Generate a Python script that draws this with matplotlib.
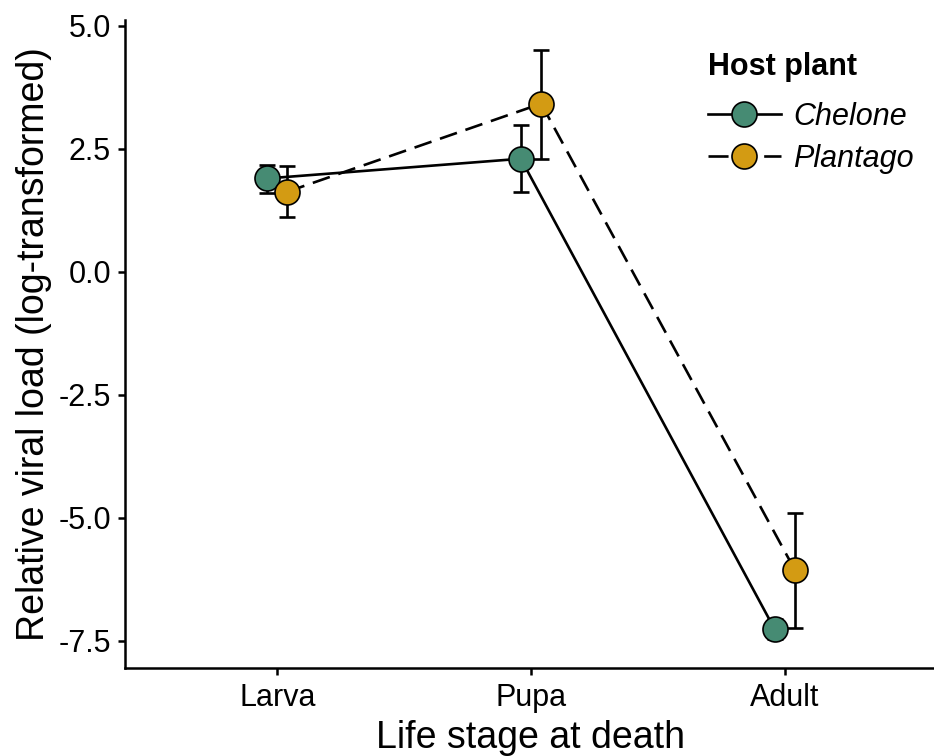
import matplotlib
matplotlib.use("Agg")
import matplotlib.pyplot as plt
from matplotlib.lines import Line2D
import numpy as np

plt.rcParams['font.family'] = ['Liberation Sans', 'DejaVu Sans']

stages = ["Larva", "Pupa", "Adult"]
chelone_mean = [1.90, 2.30, -7.26]
chelone_lo = [1.61, 1.63, -7.46]
chelone_hi = [2.17, 2.99, -7.06]
plantago_mean = [1.63, 3.42, -6.06]
plantago_lo = [1.12, 2.30, -7.24]
plantago_hi = [2.15, 4.51, -4.90]
yticks = [5.0, 2.5, 0.0, -2.5, -5.0, -7.5]
ytick_labels = ["5.0", "2.5", "0.0", "-2.5", "-5.0", "-7.5"]

green = "#468B73"
gold = "#D39B13"

W, H = 934, 756
fig = plt.figure(figsize=(W/100, H/100), dpi=100)
ax = fig.add_axes([125/W, (H-668)/H, (937-125)/W, (668-20)/H])

x = np.arange(1, len(stages)+1)
d = 0.04
xc = x - d
xp = x + d

LW = 1.9
ax.plot(xc, chelone_mean, color="black", lw=LW, ls="-", zorder=1)
ax.plot(xp, plantago_mean, color="black", lw=LW, ls=(0, (6.8, 3.4)), zorder=1)

for xs, m, lo, hi in [(xc, chelone_mean, chelone_lo, chelone_hi),
                      (xp, plantago_mean, plantago_lo, plantago_hi)]:
    m = np.array(m); lo = np.array(lo); hi = np.array(hi)
    ax.errorbar(xs, m, yerr=[m-lo, hi-m], fmt="none", ecolor="black",
                elinewidth=LW, capsize=6, capthick=LW, zorder=2)

ax.plot(xc, chelone_mean, ls="none", marker="o", ms=18, mfc=green,
        mec="black", mew=1.2, zorder=3)
ax.plot(xp, plantago_mean, ls="none", marker="o", ms=18, mfc=gold,
        mec="black", mew=1.2, zorder=3)

ax.set_xlim(0.4, 3.6)
ax.set_ylim(-8.05, 5.12)
ax.set_xticks(x)
ax.set_xticklabels(stages)
ax.set_yticks(yticks)
ax.set_yticklabels(ytick_labels)
for s in ["top", "right"]:
    ax.spines[s].set_visible(False)
for s in ["left", "bottom"]:
    ax.spines[s].set_linewidth(1.8)
ax.tick_params(axis="both", length=5, width=1.8, labelsize=22, colors="black")
ax.tick_params(axis="y", pad=5)
ax.tick_params(axis="x", pad=6)

ax.set_xlabel("Life stage at death", fontsize=27, labelpad=5)
ax.set_ylabel("Relative viral load (log-transformed)", fontsize=27, labelpad=5)

handles = [
    Line2D([0], [0], color="black", lw=LW, ls="-", marker="o", ms=18,
           mfc=green, mec="black", mew=1.2),
    Line2D([0], [0], color="black", lw=LW, ls=(0, (7.6, 13.5)), marker="o", ms=18,
           mfc=gold, mec="black", mew=1.2),
]
leg = ax.legend(handles, ["Chelone", "Plantago"], title="Host plant",
                loc="upper left", bbox_to_anchor=(680/W, 1-25/H),
                bbox_transform=fig.transFigure, frameon=False,
                prop={"style": "italic", "size": 22},
                title_fontproperties={"weight": "bold", "size": 22},
                handlelength=2.4, labelspacing=0.4, handletextpad=0.4)
leg._legend_box.align = "left"
leg._legend_box.sep = 14

fig.savefig("out.png", dpi=100)
